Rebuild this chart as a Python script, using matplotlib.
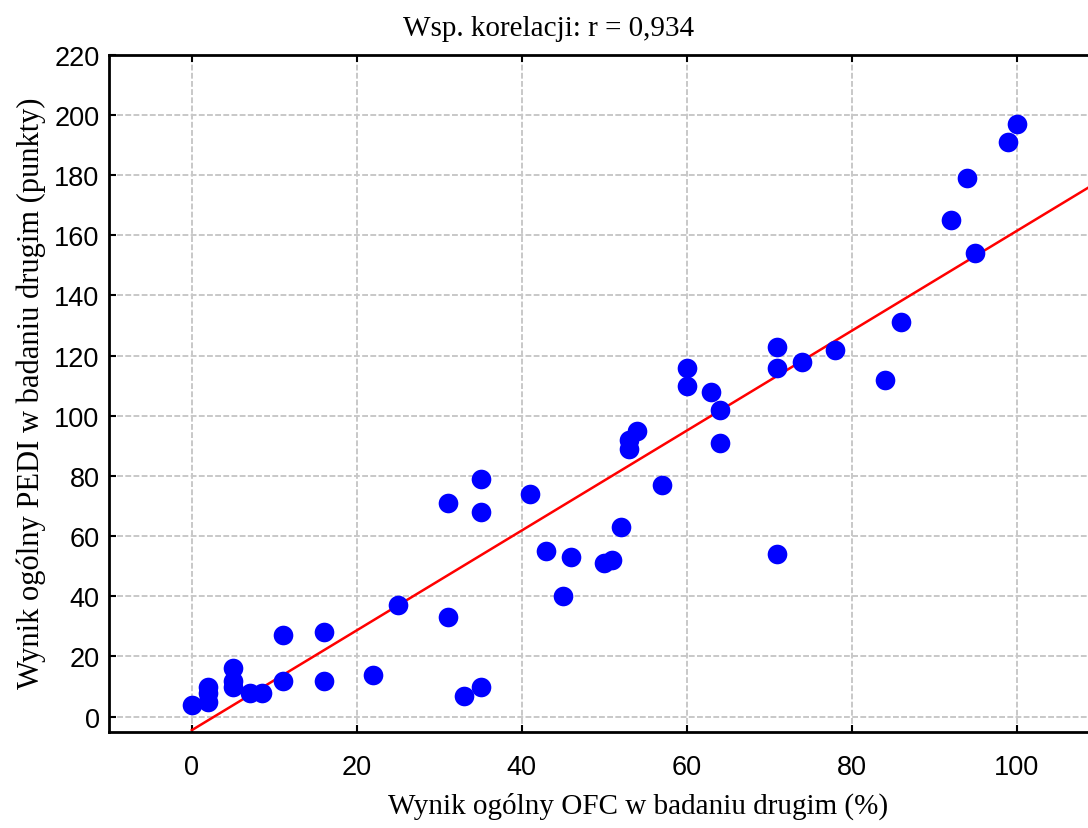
import numpy as np
import matplotlib.pyplot as plt

# OFC (%) vs PEDI (punkty), badanie drugie
ofc = [0, 2, 2, 2, 5, 5, 5, 7, 8.5, 11, 11, 16, 16, 22, 25, 31, 31, 33, 35, 35,
       35, 41, 43, 45, 46, 50, 51, 52, 53, 53, 54, 57, 60, 60, 63, 64, 64, 71,
       71, 71, 74, 78, 84, 86, 92, 94, 95, 99, 100]
pedi = [4, 10, 8, 5, 16, 12, 10, 8, 8, 27, 12, 28, 12, 14, 37, 71, 33, 7, 10, 79,
        68, 74, 55, 40, 53, 51, 52, 63, 89, 92, 95, 77, 116, 110, 108, 102, 91, 123,
        116, 54, 118, 122, 112, 131, 165, 179, 154, 191, 197]

# linia regresji
fit_x = [0, 110]
fit_y = [-4.5, 178]

xticks = [0, 20, 40, 60, 80, 100]
yticks = list(range(0, 221, 20))

fig = plt.figure(figsize=(10.88, 8.29), dpi=100)
ax = fig.add_axes([0.1005, 0.1162, 0.9097, 0.8166])

ax.grid(True, color='#c8c8c8', linestyle=(0, (3, 1.2)), linewidth=1.4, zorder=0)
ax.plot(fit_x, fit_y, color='red', linewidth=1.8, zorder=2)
ax.scatter(ofc, pedi, s=200, color='#0000ff', marker='o', linewidths=0, zorder=3)

ax.set_xlim(-10, 110)
ax.set_ylim(-5, 220)
ax.set_xticks(xticks)
ax.set_yticks(yticks)
ax.tick_params(direction='in', length=5, width=1.5, labelsize=19.5,
               top=True, right=False)
ax.tick_params(axis='x', pad=16)
ax.tick_params(axis='y', pad=7)
for lab in ax.get_xticklabels() + ax.get_yticklabels():
    lab.set_family('Liberation Sans')
for s in ax.spines.values():
    s.set_linewidth(2)

serif = 'Liberation Serif'
fig.text(549/1088, 1 - 29/829, 'Wsp. korelacji: r = 0,934', ha='center', va='center',
         family=serif, fontsize=21)
fig.text(638/1088, 1 - 806/829, 'Wynik ogólny OFC w badaniu drugim (%)', ha='center',
         va='center', family=serif, fontsize=21)
fig.text(31/1088, 1 - 393/829, 'Wynik ogólny PEDI w badaniu drugim (punkty)', ha='center',
         va='center', rotation=90, family=serif, fontsize=22)

fig.savefig('out.png', dpi=100)
